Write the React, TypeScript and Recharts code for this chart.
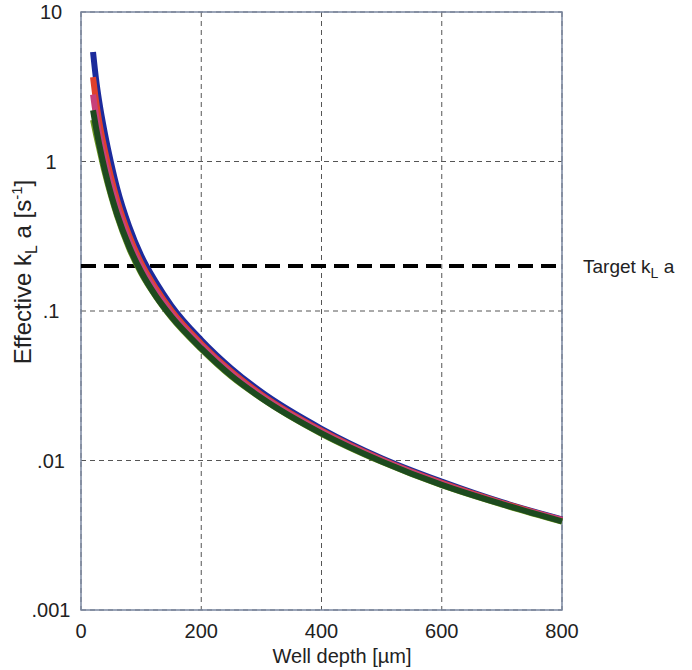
import { CartesianGrid, Line, LineChart, ReferenceArea, ReferenceLine, XAxis, YAxis } from "recharts";

// well depth in µm
const depths = [20, 25, 30, 40, 50, 60, 80, 100, 125, 150, 200, 250, 300, 400, 500, 600, 700, 800];

// effective kLa [1/s]
const blueKla = [5.4, 3.56, 2.56, 1.52, 0.98, 0.666, 0.369, 0.235, 0.155, 0.109, 0.064, 0.0413, 0.0287, 0.0163, 0.01036, 0.00722, 0.00526, 0.00404];
const redKla = [3.67, 2.54, 1.88, 1.17, 0.784, 0.555, 0.321, 0.21, 0.141, 0.101, 0.0604, 0.0393, 0.0276, 0.01585, 0.01016, 0.00708, 0.00521, 0.004];
const pinkKla = [2.8, 2.03, 1.54, 0.995, 0.69, 0.5, 0.295, 0.197, 0.134, 0.097, 0.0586, 0.0383, 0.027, 0.0156, 0.01006, 0.007, 0.00516, 0.004];
const oliveKla = [1.9, 1.52, 1.24, 0.83, 0.588, 0.433, 0.263, 0.179, 0.124, 0.0909, 0.0556, 0.0365, 0.0261, 0.0151, 0.0098, 0.00683, 0.00508, 0.0039];
const greenKla = [2.2, 1.68, 1.32, 0.866, 0.604, 0.444, 0.27, 0.183, 0.125, 0.0919, 0.0562, 0.0369, 0.0262, 0.0152, 0.00986, 0.00687, 0.00511, 0.00392];

const targetKla = 0.2;

const xTicks = [0, 200, 400, 600, 800];
const yTicks = [0.001, 0.01, 0.1, 1, 10];
const yTickLabels = [".001", ".01", ".1", "1", "10"];

const data = depths.map((depth, i) => ({
  depth,
  blue: blueKla[i],
  red: redKla[i],
  pink: pinkKla[i],
  olive: oliveKla[i],
  green: greenKla[i],
}));

const FONT = '"Liberation Sans", Arial, sans-serif';

function YTick({ y, payload }: any) {
  const idx = yTicks.indexOf(payload.value);
  return (
    <text x={51} y={y} textAnchor="middle" dominantBaseline="central" fontSize={20} fill="#222" fontFamily={FONT}>
      {yTickLabels[idx]}
    </text>
  );
}

function YLabel() {
  return (
    <text transform="translate(31, 272) rotate(-90)" textAnchor="middle" fontSize={24} fill="#222" fontFamily={FONT}>
      Effective k
      <tspan dy={6} fontSize={16}>L</tspan>
      <tspan dy={-6}> a [s</tspan>
      <tspan dy={-9} fontSize={15}>-1</tspan>
      <tspan dy={9}>]</tspan>
    </text>
  );
}

function XLabel() {
  return (
    <text x={342} y={663} textAnchor="middle" fontSize={20} fill="#222" fontFamily={FONT}>
      Well depth [µm]
    </text>
  );
}

function TargetLabel(props: any) {
  const vb = props.viewBox || { x: 81, y: 267, width: 481 };
  return (
    <text x={vb.x + vb.width + 21} y={vb.y + 7} fontSize={19} fill="#222" fontFamily={FONT}>
      Target k
      <tspan dy={5} fontSize={14}>L</tspan>
      <tspan dy={-5}> a</tspan>
    </text>
  );
}

export default function App() {
  return (
    <div style={{ width: 692, height: 670, background: "#fff" }}>
      <style>{"body{margin:0}"}</style>
      <LineChart width={692} height={670} data={data} margin={{ top: 12, right: 130, left: 0, bottom: 0 }}>
        <CartesianGrid stroke="#555" strokeDasharray="5 4" strokeWidth={1} />
        <XAxis
          type="number"
          dataKey="depth"
          domain={[0, 800]}
          ticks={xTicks}
          height={60}
          axisLine={false}
          tickLine={false}
          tickMargin={8}
          tick={{ fontSize: 20, fill: "#222", fontFamily: FONT }}
          label={<XLabel />}
        />
        <YAxis
          scale="log"
          domain={[0.001, 10]}
          ticks={yTicks}
          allowDataOverflow
          width={81}
          axisLine={false}
          tickLine={false}
          tick={<YTick />}
          label={<YLabel />}
        />
        <ReferenceArea x1={0} x2={800} y1={0.001} y2={10} fill="none" stroke="#7a86a0" strokeWidth={1.5} />
        <ReferenceLine y={targetKla} stroke="#000" strokeWidth={4} strokeDasharray="15 8" label={<TargetLabel />} />
        <Line type="monotone" dataKey="blue" stroke="#1c2b9c" strokeWidth={6} dot={false} isAnimationActive={false} />
        <Line type="monotone" dataKey="red" stroke="#e0402c" strokeWidth={6} dot={false} isAnimationActive={false} />
        <Line type="monotone" dataKey="pink" stroke="#c8407a" strokeWidth={6} dot={false} isAnimationActive={false} />
        <Line type="monotone" dataKey="olive" stroke="#6f9a22" strokeWidth={6} dot={false} isAnimationActive={false} />
        <Line type="monotone" dataKey="green" stroke="#1d4a1f" strokeWidth={6} dot={false} isAnimationActive={false} />
      </LineChart>
    </div>
  );
}
